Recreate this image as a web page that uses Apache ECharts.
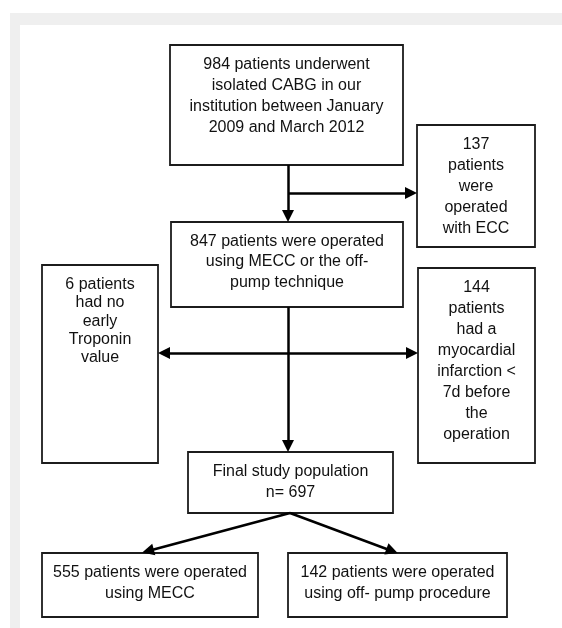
<!DOCTYPE html>
<html>
<head>
<meta charset="utf-8">
<script src="https://cdn.jsdelivr.net/npm/echarts@6/dist/echarts.min.js"></script>
<style>
  html, body { margin: 0; padding: 0; background: #fff; }
  #flow { width: 562px; height: 628px; }
</style>
</head>
<body>
<div id="flow"></div>
<script>
// box texts, in drawing order
var boxText = [
  "984 patients underwent\nisolated CABG in our\ninstitution between January\n2009 and March 2012",
  "137\npatients\nwere\noperated\nwith ECC",
  "847 patients were operated\nusing MECC or the off-\npump technique",
  "6 patients\nhad no\nearly\nTroponin\nvalue",
  "144\npatients\nhad a\nmyocardial\ninfarction <\n7d before\nthe\noperation",
  "Final study population\nn= 697",
  "555 patients were operated\nusing MECC",
  "142 patients were operated\nusing off- pump procedure"
];
// box corners in page units [x0, y0, x1, y1]
var boxRect = [
  [170, 45, 403, 165],
  [417, 125, 535, 247],
  [171, 222, 403, 307],
  [42, 265, 158, 463],
  [418, 268, 535, 463],
  [188, 452, 393, 513],
  [42, 553, 258, 617],
  [288, 553, 507, 617]
];
var boxLineHeight = [21, 21, 20.5, 18.3, 21, 21, 21, 21];
// arrows: from -> to (end point = middle of the arrow head)
var arrowFrom = [[288, 165], [288, 193], [288, 307], [288, 353], [288, 353], [290, 513], [290, 513]];
var arrowTo   = [[288, 216], [411, 193], [288, 446], [164, 353], [412, 353], [148, 551], [392, 551]];

var myChart = echarts.init(document.getElementById("flow"));
var FONT = "'Liberation Sans', Arial, Helvetica, sans-serif";

myChart.setOption({
  animation: false,
  grid: { left: 0, right: 0, top: 0, bottom: 0 },
  xAxis: { type: "value", min: 0, max: 562, show: false },
  yAxis: { type: "value", min: 0, max: 628, inverse: true, show: false },
  graphic: [
    { type: "rect", z: -10, shape: { x: 10, y: 13, width: 552, height: 615 }, style: { fill: "#efefef" } },
    { type: "rect", z: -9, shape: { x: 20, y: 25, width: 542, height: 603 }, style: { fill: "#ffffff" } }
  ],
  series: [
    {
      type: "custom",
      z: 2,
      data: boxRect.map(function (r, i) { return [(r[0] + r[2]) / 2, (r[1] + r[3]) / 2, i]; }),
      encode: { x: 0, y: 1 },
      renderItem: function (params, api) {
        var i = params.dataIndex;
        var r = boxRect[i];
        var p0 = api.coord([r[0], r[1]]);
        var p1 = api.coord([r[2], r[3]]);
        var lh = boxLineHeight[i];
        var pad = 19.5 - lh / 2;
        return {
          type: "group",
          children: [
            {
              type: "rect",
              shape: { x: p0[0], y: p0[1], width: p1[0] - p0[0], height: p1[1] - p0[1] },
              style: { fill: "#fff", stroke: "#1c1c1c", lineWidth: 1.8 }
            },
            {
              type: "text",
              x: (p0[0] + p1[0]) / 2,
              y: p0[1] + pad,
              style: {
                text: boxText[i],
                fontSize: 16,
                fontFamily: FONT,
                fill: "#111",
                align: "center",
                verticalAlign: "top",
                lineHeight: lh
              }
            }
          ]
        };
      }
    },
    {
      type: "lines",
      coordinateSystem: "cartesian2d",
      z: 3,
      symbol: ["none", "triangle"],
      symbolSize: [12, 12],
      lineStyle: { color: "#000", width: 2.5, opacity: 1 },
      itemStyle: { color: "#000" },
      data: arrowFrom.map(function (f, i) { return { coords: [f, arrowTo[i]] }; })
    }
  ]
});
</script>
</body>
</html>
